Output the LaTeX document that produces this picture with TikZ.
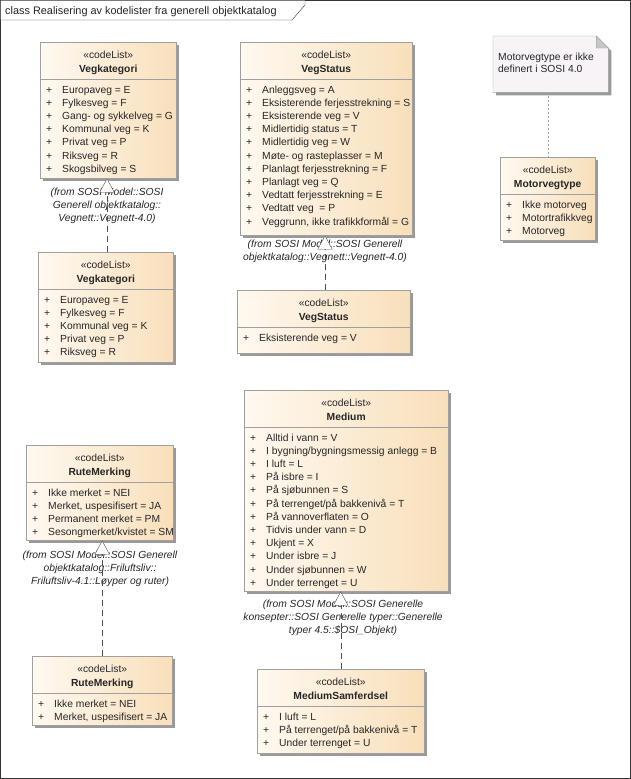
\documentclass[tikz,border=0pt]{standalone}
\usepackage{fontspec}
\setmainfont{Liberation Sans}
\usetikzlibrary{arrows.meta,positioning,shadows,calc}

\definecolor{boxleft}{HTML}{FFF9F0}
\definecolor{boxright}{HTML}{F8DFBA}
\definecolor{boxline}{HTML}{A0A0A0}
\definecolor{notefill}{HTML}{F7F3F7}
\definecolor{linegray}{HTML}{505050}

\begin{document}
\begin{tikzpicture}[x=1pt, y=-1pt,
    every node/.style={font=\fontsize{10.3}{13}\selectfont, inner sep=0pt, text=black!85},
    classbox/.style={draw=boxline, left color=boxleft, right color=boxright, anchor=north west,
      drop shadow={shadow xshift=3pt, shadow yshift=-3pt, fill=black!40, opacity=1}},
    divider/.style={draw=boxline},
    stereo/.style={anchor=base},
    cname/.style={anchor=base, font=\fontsize{10.3}{13}\selectfont\bfseries},
    attr/.style={anchor=base west},
    fromtext/.style={anchor=north, align=center, font=\fontsize{10.3}{13}\selectfont\itshape},
    realize/.style={draw=linegray, dash pattern=on 6pt off 4pt, -{Triangle[fill=white, length=14pt, width=15pt]}},
    notelink/.style={draw=black!35, dash pattern=on 2pt off 2pt}]
  \useasboundingbox (0,0) rectangle (631,779);

  % diagram frame
  \draw[black!80] (0.5,0.5) rectangle (630.5,778.5);
  \draw[black!80, fill=white] (0.5,0.5) -- (0.5,20) -- (292,20) -- (305,5) -- (305,0.5);
  \node[anchor=base west, font=\fontsize{10.9}{13}\selectfont] (frametitle) at (5,14.5)
    {class Realisering av kodelister fra generell objektkatalog};

  % Vegkategori (generell)
  \node[classbox, minimum width=136pt, minimum height=136pt] (vk1) at (40,42) {};
  \draw[divider] ([yshift=-37pt]vk1.north west) -- ([yshift=-37pt]vk1.north east);
  \node[stereo] at ([yshift=-16pt]vk1.north) {«codeList»};
  \node[cname] at ([yshift=-30pt]vk1.north) {Vegkategori};
  \foreach \t [count=\i] in {Europaveg = E, Fylkesveg = F, Gang- og sykkelveg = G, Kommunal veg = K,
      Privat veg = P, Riksveg = R, Skogsbilveg = S}
    \node[attr] at ([xshift=6pt, yshift={-51pt-13.2pt*(\i-1)}]vk1.north west) {\makebox[16pt][l]{+}\t};
  \node[fromtext] (vk1from) at (107,188) {(from SOSI Model::SOSI\\Generell objektkatalog::\\Vegnett::Vegnett-4.0)};

  % Vegkategori (realisering)
  \node[classbox, minimum width=135pt, minimum height=110pt] (vk2) at (38,252) {};
  \draw[divider] ([yshift=-37pt]vk2.north west) -- ([yshift=-37pt]vk2.north east);
  \node[stereo] at ([yshift=-16pt]vk2.north) {«codeList»};
  \node[cname] at ([yshift=-30pt]vk2.north) {Vegkategori};
  \foreach \t [count=\i] in {Europaveg = E, Fylkesveg = F, Kommunal veg = K, Privat veg = P, Riksveg = R}
    \node[attr] at ([xshift=6pt, yshift={-51pt-13.2pt*(\i-1)}]vk2.north west) {\makebox[16pt][l]{+}\t};

  % VegStatus (generell)
  \node[classbox, minimum width=172pt, minimum height=193pt] (vs1) at (240,42) {};
  \draw[divider] ([yshift=-37pt]vs1.north west) -- ([yshift=-37pt]vs1.north east);
  \node[stereo] at ([yshift=-16pt]vs1.north) {«codeList»};
  \node[cname] at ([yshift=-30pt]vs1.north) {VegStatus};
  \foreach \t [count=\i] in {Anleggsveg = A, Eksisterende ferjesstrekning = S, Eksisterende veg = V,
      Midlertidig status = T, Midlertidig veg = W, Møte- og rasteplasser = M, Planlagt ferjesstrekning = F,
      Planlagt veg = Q, Vedtatt ferjesstrekning = E, Vedtatt veg\ \ = P, {Veggrunn, ikke trafikkformål = G}}
    \node[attr] at ([xshift=6pt, yshift={-51pt-13.2pt*(\i-1)}]vs1.north west) {\makebox[16pt][l]{+}\t};
  \node[fromtext] (vs1from) at (325,240) {(from SOSI Model::SOSI Generell\\objektkatalog::Vegnett::Vegnett-4.0)};

  % VegStatus (realisering)
  \node[classbox, minimum width=173pt, minimum height=63pt] (vs2) at (237,290) {};
  \draw[divider] ([yshift=-37pt]vs2.north west) -- ([yshift=-37pt]vs2.north east);
  \node[stereo] at ([yshift=-16pt]vs2.north) {«codeList»};
  \node[cname] at ([yshift=-30pt]vs2.north) {VegStatus};
  \node[attr] at ([xshift=6pt, yshift=-51pt]vs2.north west) {\makebox[16pt][l]{+}Eksisterende veg = V};

  % note + Motorvegtype
  \node[minimum width=115pt, minimum height=56pt, anchor=north west] (note) at (493,36) {};
  \draw[draw=boxline, fill=notefill, drop shadow={shadow xshift=3pt, shadow yshift=-3pt, fill=black!40, opacity=1}]
    (note.north west) -- ([xshift=-12pt]note.north east) -- ([yshift=-12pt]note.north east)
    -- (note.south east) -- (note.south west) -- cycle;
  \draw[draw=boxline, fill=black!22] ([xshift=-12pt]note.north east) -- ([xshift=-12pt, yshift=-12pt]note.north east)
    -- ([yshift=-12pt]note.north east) -- cycle;
  \node[anchor=base west, align=left, font=\fontsize{10.3}{12}\selectfont] (notetext) at (498,72.5)
    {Motorvegtype er ikke\\definert i SOSI 4.0};

  \node[classbox, minimum width=95pt, minimum height=83pt] (mt) at (500,157) {};
  \draw[divider] ([yshift=-37pt]mt.north west) -- ([yshift=-37pt]mt.north east);
  \node[stereo] at ([yshift=-16pt]mt.north) {«codeList»};
  \node[cname] at ([yshift=-30pt]mt.north) {Motorvegtype};
  \foreach \t [count=\i] in {Ikke motorveg, Motortrafikkveg, Motorveg}
    \node[attr] at ([xshift=6pt, yshift={-51pt-13.2pt*(\i-1)}]mt.north west) {\makebox[16pt][l]{+}\t};
  \draw[notelink] (mt.north |- note.south) -- (mt.north);

  % RuteMerking (generell)
  \node[classbox, minimum width=147pt, minimum height=95pt] (rm1) at (26,445) {};
  \draw[divider] ([yshift=-37pt]rm1.north west) -- ([yshift=-37pt]rm1.north east);
  \node[stereo] at ([yshift=-16pt]rm1.north) {«codeList»};
  \node[cname] at ([yshift=-30pt]rm1.north) {RuteMerking};
  \foreach \t [count=\i] in {Ikke merket = NEI, {Merket, uspesifisert = JA}, Permanent merket = PM,
      Sesongmerket/kvistet = SM}
    \node[attr] at ([xshift=6pt, yshift={-51pt-13.2pt*(\i-1)}]rm1.north west) {\makebox[16pt][l]{+}\t};
  \node[fromtext] (rm1from) at (100,551) {(from SOSI Model::SOSI Generell\\objektkatalog::Friluftsliv::\\Friluftsliv-4.1::Løyper og ruter)};

  % RuteMerking (realisering)
  \node[classbox, minimum width=140pt, minimum height=69pt] (rm2) at (32,656) {};
  \draw[divider] ([yshift=-37pt]rm2.north west) -- ([yshift=-37pt]rm2.north east);
  \node[stereo] at ([yshift=-16pt]rm2.north) {«codeList»};
  \node[cname] at ([yshift=-30pt]rm2.north) {RuteMerking};
  \foreach \t [count=\i] in {Ikke merket = NEI, {Merket, uspesifisert = JA}}
    \node[attr] at ([xshift=6pt, yshift={-51pt-13.2pt*(\i-1)}]rm2.north west) {\makebox[16pt][l]{+}\t};

  % Medium (generell)
  \node[classbox, minimum width=204pt, minimum height=201pt] (md) at (244,390) {};
  \draw[divider] ([yshift=-37pt]md.north west) -- ([yshift=-37pt]md.north east);
  \node[stereo] at ([yshift=-16pt]md.north) {«codeList»};
  \node[cname] at ([yshift=-30pt]md.north) {Medium};
  \foreach \t [count=\i] in {Alltid i vann = V, I bygning/bygningsmessig anlegg = B, I luft = L, På isbre = I,
      På sjøbunnen = S, På terrenget/på bakkenivå = T, På vannoverflaten = O, Tidvis under vann = D,
      Ukjent = X, Under isbre = J, Under sjøbunnen = W, Under terrenget = U}
    \node[attr] at ([xshift=6pt, yshift={-51pt-13.2pt*(\i-1)}]md.north west) {\makebox[16pt][l]{+}\t};
  \node[fromtext] (mdfrom) at (343,600) {(from SOSI Model::SOSI Generelle\\konsepter::SOSI Generelle typer::Generelle\\typer 4.5::\$OSI\_Objekt)};

  % MediumSamferdsel (realisering)
  \node[classbox, minimum width=167pt, minimum height=84pt] (ms) at (257,669) {};
  \draw[divider] ([yshift=-37pt]ms.north west) -- ([yshift=-37pt]ms.north east);
  \node[stereo] at ([yshift=-16pt]ms.north) {«codeList»};
  \node[cname] at ([yshift=-30pt]ms.north) {MediumSamferdsel};
  \foreach \t [count=\i] in {I luft = L, På terrenget/på bakkenivå = T, Under terrenget = U}
    \node[attr] at ([xshift=6pt, yshift={-51pt-13.2pt*(\i-1)}]ms.north west) {\makebox[16pt][l]{+}\t};

  % realiseringer
  \draw[realize] (vk2.north -| vk1from.north) -- (vk1.south -| vk1from.north);
  \draw[realize] (vs2.north -| vs1from.north) -- (vs1.south -| vs1from.north);
  \draw[realize] (rm2.north) -- (rm1.south -| rm2.north);
  \draw[realize] (ms.north) -- (md.south -| ms.north);
\end{tikzpicture}
\end{document}
